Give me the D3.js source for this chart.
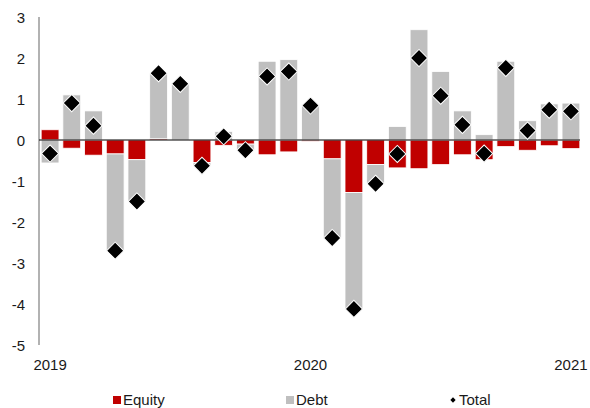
<!DOCTYPE html>
<html lang="en">
<head>
<meta charset="UTF-8">
<title>Equity and debt flows</title>
<script src="https://d3js.org/d3.v7.min.js"></script>
<style>
  body { margin: 0; background: #fff; }
  svg text { font-family: "Liberation Sans", Arial, sans-serif; fill: #1a1a1a; }
</style>
</head>
<body>
<svg width="590" height="408"></svg>
<script>
  // monthly, Jan 2019 .. Jan 2021
  const months = d3.range(25);
  const equity = [0.25, -0.2, -0.37, -0.34, -0.48, 0.03, -0.02, -0.55, -0.13, -0.1, -0.36, -0.29,
                  -0.03, -0.46, -1.28, -0.6, -0.68, -0.7, -0.6, -0.36, -0.48, -0.16, -0.25, -0.14, -0.21];
  const debt = [-0.56, 1.1, 0.71, -2.36, -1.02, 1.6, 1.39, -0.08, 0.21, -0.15, 1.92, 1.96,
                0.87, -1.93, -2.84, -0.47, 0.33, 2.69, 1.67, 0.71, 0.13, 1.92, 0.47, 0.88, 0.9];
  const total = [-0.33, 0.9, 0.35, -2.7, -1.5, 1.63, 1.37, -0.63, 0.09, -0.25, 1.55, 1.67,
                 0.84, -2.39, -4.12, -1.07, -0.34, 2.0, 1.08, 0.37, -0.33, 1.76, 0.23, 0.74, 0.7];
  const yearTicks = [{ i: 0, label: "2019" }, { i: 12, label: "2020" }, { i: 24, label: "2021" }];
  const yTicks = [3, 2, 1, 0, -1, -2, -3, -4, -5];

  const rows = months.map(i => ({ i: i, equity: equity[i], debt: debt[i] }));
  const series = d3.stack().keys(["equity", "debt"]).offset(d3.stackOffsetDiverging)(rows);
  const colors = { equity: "#c00000", debt: "#bfbfbf" };

  const svg = d3.select("svg");

  const x = d3.scaleBand().domain(months).range([39, 582]).paddingInner(0.18).paddingOuter(0.1);
  const y = d3.scaleLinear().domain([-5, 3]).range([345, 17]);

  // bars
  svg.append("g").selectAll("g")
    .data(series)
    .join("g")
    .attr("fill", s => colors[s.key])
    .selectAll("rect")
    .data(s => s)
    .join("rect")
    .attr("x", d => x(d.data.i))
    .attr("y", d => y(Math.max(d[0], d[1])))
    .attr("width", x.bandwidth())
    .attr("height", d => Math.abs(y(d[0]) - y(d[1])))
    .attr("stroke", "#fff")
    .attr("stroke-width", 0.8);

  // y axis line and labels
  svg.append("line")
    .attr("x1", 39).attr("x2", 39)
    .attr("y1", y(3)).attr("y2", y(-5))
    .attr("stroke", "#7f7f7f").attr("stroke-width", 1.2);

  svg.append("g").selectAll("text")
    .data(yTicks)
    .join("text")
    .attr("x", 25)
    .attr("y", d => y(d) + 5.5)
    .attr("text-anchor", "end")
    .attr("font-size", 15)
    .text(d => d);

  // zero line
  svg.append("line")
    .attr("x1", 39).attr("x2", 580)
    .attr("y1", y(0)).attr("y2", y(0))
    .attr("stroke", "#000").attr("stroke-width", 1.2);

  // totals
  const diamond = d3.symbol().type(d3.symbolSquare).size(148);
  svg.append("g").selectAll("path")
    .data(months)
    .join("path")
    .attr("d", diamond)
    .attr("transform", i => `translate(${x(i) + x.bandwidth() / 2},${y(total[i])}) rotate(45)`)
    .attr("fill", "#000")
    .attr("stroke", "#fff")
    .attr("stroke-width", 1);

  // year labels
  svg.append("g").selectAll("text")
    .data(yearTicks)
    .join("text")
    .attr("x", d => x(d.i) + x.bandwidth() / 2)
    .attr("y", 370)
    .attr("text-anchor", "middle")
    .attr("font-size", 15)
    .text(d => d.label);

  // legend
  const legend = svg.append("g").attr("font-size", 15);
  legend.append("rect").attr("x", 113).attr("y", 396).attr("width", 8).attr("height", 8).attr("fill", colors.equity);
  legend.append("text").attr("x", 123).attr("y", 405).text("Equity");
  legend.append("rect").attr("x", 286).attr("y", 396).attr("width", 8).attr("height", 8).attr("fill", colors.debt);
  legend.append("text").attr("x", 296).attr("y", 405).text("Debt");
  legend.append("path")
    .attr("d", d3.symbol().type(d3.symbolSquare).size(14))
    .attr("transform", "translate(453,400) rotate(45)")
    .attr("fill", "#000");
  legend.append("text").attr("x", 459).attr("y", 405).text("Total");
</script>
</body>
</html>
